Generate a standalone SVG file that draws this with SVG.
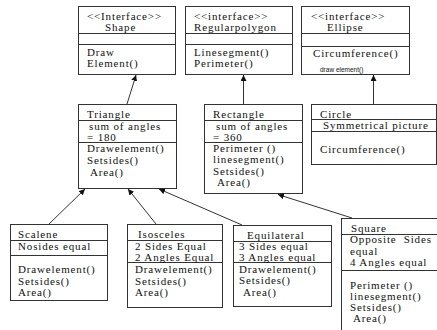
<svg xmlns="http://www.w3.org/2000/svg" width="437" height="330" viewBox="0 0 437 330">
<style>
.box{fill:#fff;stroke:#333;stroke-width:1}
.div{stroke:#333;stroke-width:1}
text{font-family:"Liberation Serif","DejaVu Serif","Times New Roman",serif;font-size:11px;fill:#111;letter-spacing:0.85px}
.small{font-family:"Liberation Sans",Arial,sans-serif;font-size:6.5px;letter-spacing:0}
.conn line{stroke:#333;stroke-width:1;marker-end:url(#ah)}
</style>
<defs>
<marker id="ah" viewBox="0 0 10 10" refX="10" refY="5" markerWidth="6" markerHeight="6" markerUnits="userSpaceOnUse" orient="auto">
<path d="M0,0 L10,5 L0,10 z" fill="#111"/>
</marker>
</defs>
<rect width="437" height="330" fill="#fff"/>
<g id="shape">
<rect class="box" x="78.5" y="6.5" width="97" height="68"/>
<line class="div" x1="78.5" y1="33.5" x2="175.5" y2="33.5"/>
<line class="div" x1="78.5" y1="44.5" x2="175.5" y2="44.5"/>
<text x="87" y="20">&lt;&lt;Interface&gt;&gt;</text>
<text x="105" y="31">Shape</text>
<text x="87" y="56">Draw</text>
<text x="87" y="67">Element()</text>
</g>
<g id="regularpolygon">
<rect class="box" x="185.5" y="6.5" width="107" height="68"/>
<line class="div" x1="185.5" y1="33.5" x2="292.5" y2="33.5"/>
<line class="div" x1="185.5" y1="44.5" x2="292.5" y2="44.5"/>
<text x="194" y="20">&lt;&lt;interface&gt;&gt;</text>
<text x="194" y="31">Regularpolygon</text>
<text x="194" y="56">Linesegment()</text>
<text x="194" y="67">Perimeter()</text>
</g>
<g id="ellipse">
<rect class="box" x="301.5" y="6.5" width="108" height="68"/>
<line class="div" x1="301.5" y1="33.5" x2="409.5" y2="33.5"/>
<line class="div" x1="301.5" y1="46.5" x2="409.5" y2="46.5"/>
<text x="311" y="20">&lt;&lt;interface&gt;&gt;</text>
<text x="327" y="31">Ellipse</text>
<text x="313" y="57">Circumference()</text>
<text class="small" x="320" y="72">draw element()</text>
</g>
<g id="triangle">
<rect class="box" x="78.5" y="104.5" width="98" height="84"/>
<line class="div" x1="78.5" y1="120.5" x2="176.5" y2="120.5"/>
<line class="div" x1="78.5" y1="142.5" x2="176.5" y2="142.5"/>
<text x="87" y="118">Triangle</text>
<text x="89" y="130">sum of angles</text>
<text x="87" y="141">= 180</text>
<text x="87" y="152">Drawelement()</text>
<text x="87" y="164">Setsides()</text>
<text x="90" y="176">Area()</text>
</g>
<g id="rectangle">
<rect class="box" x="204.5" y="104.5" width="98" height="89"/>
<line class="div" x1="204.5" y1="120.5" x2="302.5" y2="120.5"/>
<line class="div" x1="204.5" y1="142.5" x2="302.5" y2="142.5"/>
<text x="213" y="118">Rectangle</text>
<text x="216" y="130">sum of angles</text>
<text x="213" y="141">= 360</text>
<text x="213" y="152">Perimeter ()</text>
<text x="213" y="163">linesegment()</text>
<text x="213" y="175">Setsides()</text>
<text x="217" y="186">Area()</text>
</g>
<g id="circle">
<rect class="box" x="311.5" y="104.5" width="125" height="60"/>
<line class="div" x1="311.5" y1="119.5" x2="436.5" y2="119.5"/>
<line class="div" x1="311.5" y1="131.5" x2="436.5" y2="131.5"/>
<text x="320" y="118">Circle</text>
<text x="323" y="129">Symmetrical picture</text>
<text x="320" y="153">Circumference()</text>
</g>
<g id="scalene">
<rect class="box" x="10.5" y="224.5" width="97" height="76"/>
<line class="div" x1="10.5" y1="240.5" x2="107.5" y2="240.5"/>
<line class="div" x1="10.5" y1="255.5" x2="107.5" y2="255.5"/>
<text x="18" y="238">Scalene</text>
<text x="18" y="250">Nosides equal</text>
<text x="18" y="273">Drawelement()</text>
<text x="18" y="285">Setsides()</text>
<text x="18" y="296">Area()</text>
</g>
<g id="isosceles">
<rect class="box" x="127.5" y="224.5" width="95" height="83"/>
<line class="div" x1="127.5" y1="240.5" x2="222.5" y2="240.5"/>
<line class="div" x1="127.5" y1="262.5" x2="222.5" y2="262.5"/>
<text x="138" y="238">Isosceles</text>
<text x="135" y="250">2 Sides Equal</text>
<text x="135" y="261">2 Angles Equal</text>
<text x="135" y="273">Drawelement()</text>
<text x="135" y="285">Setsides()</text>
<text x="135" y="296">Area()</text>
</g>
<g id="equilateral">
<rect class="box" x="233.5" y="225.5" width="98" height="81"/>
<line class="div" x1="233.5" y1="241.5" x2="331.5" y2="241.5"/>
<line class="div" x1="233.5" y1="262.5" x2="331.5" y2="262.5"/>
<text x="247" y="239">Equilateral</text>
<text x="239" y="250">3 Sides equal</text>
<text x="239" y="261">3 Angles equal</text>
<text x="239" y="273">Drawelement()</text>
<text x="239" y="284">Setsides()</text>
<text x="243" y="296">Area()</text>
</g>
<g id="square">
<rect class="box" x="341.5" y="218.5" width="110" height="125"/>
<line class="div" x1="341.5" y1="234.5" x2="437" y2="234.5"/>
<line class="div" x1="341.5" y1="270.5" x2="437" y2="270.5"/>
<text x="351" y="232">Square</text>
<text x="350" y="243" xml:space="preserve">Opposite  Sides</text>
<text x="350" y="255">equal</text>
<text x="350" y="266">4 Angles equal</text>
<text x="350" y="289">Perimeter ()</text>
<text x="350" y="300">linesegment()</text>
<text x="350" y="311">Setsides()</text>
<text x="353" y="322">Area()</text>
</g>
<g class="conn" id="connectors">
<line x1="127" y1="104" x2="136" y2="75"/>
<line x1="243.5" y1="104" x2="243.5" y2="75"/>
<line x1="373.5" y1="104" x2="373.5" y2="75"/>
<line x1="49" y1="224" x2="85" y2="189"/>
<line x1="156" y1="224" x2="128" y2="189"/>
<line x1="242" y1="225" x2="159" y2="189"/>
<line x1="352" y1="218" x2="278" y2="194.5"/>
</g>
</svg>
